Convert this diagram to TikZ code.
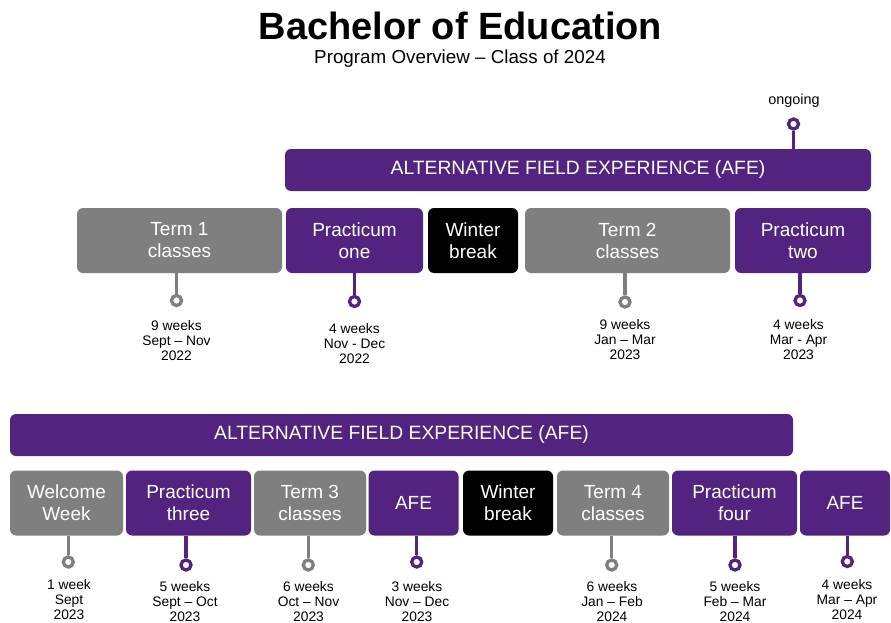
\documentclass[tikz,border=0pt]{standalone}
\usepackage{fontspec}
\setmainfont{Liberation Sans}
\definecolor{wpurple}{HTML}{52237F}
\definecolor{wgray}{HTML}{7F7F7F}
\begin{document}
\begin{tikzpicture}[x=1pt,y=-1pt,
  box/.style={rounded corners=6pt, inner sep=0pt, text=white, align=center,
    font=\fontsize{19}{22}\selectfont},
  pbox/.style={box, fill=wpurple},
  gbox/.style={box, fill=wgray},
  kbox/.style={box, fill=black},
  bar/.style={box, fill=wpurple, font=\fontsize{19.3}{22}\selectfont},
  dot/.style={circle, line width=3.3pt, fill=white, minimum size=10pt, inner sep=0pt},
  pdot/.style={dot, draw=wpurple},
  gdot/.style={dot, draw=wgray},
  stemp/.style={draw=wpurple, line width=3.3pt},
  stemg/.style={draw=wgray, line width=3.3pt},
  lbl/.style={align=center, font=\fontsize{13.8}{15}\selectfont, inner sep=0pt}]
\useasboundingbox (0,0) rectangle (891,623);
\fill[white] (0,0) rectangle (891,623);

% titles
\node[font=\fontsize{38}{40}\selectfont\bfseries, inner sep=0pt] (title) at (460.5,25.5) {Bachelor of Education};
\node[font=\fontsize{18.8}{20}\selectfont, inner sep=0pt] (sub) at (460,59) {Program Overview – Class of 2024};

% ---------- top section ----------
\node[bar, minimum width=586, minimum height=42] (afe1) at (578,170) {ALTERNATIVE FIELD EXPERIENCE (AFE)};
\node[font=\fontsize{14.4}{16}\selectfont, inner sep=0pt] (ongoing) at (794,100.5) {ongoing};
\node[pdot] (d0) at (793.5,124) {};
\draw[stemp] (d0.south) -- (d0.south |- afe1.north);

\node[gbox, minimum width=205, minimum height=65] (t1) at (179.5,240.5) {Term 1\\classes};
\node[pbox, minimum width=137, minimum height=65] (p1) at (354.5,240.5) {Practicum\\one};
\node[kbox, minimum width=90, minimum height=65] (w1) at (473,240.5) {Winter\\break};
\node[gbox, minimum width=205, minimum height=65] (t2) at (627.5,240.5) {Term 2\\classes};
\node[pbox, minimum width=136, minimum height=65] (p2) at (803,240.5) {Practicum\\two};

\node[gdot] (dt1) at (176.5,300.5) {};
\node[pdot] (dp1) at (354.5,301.5) {};
\node[gdot] (dt2) at (625,302) {};
\node[pdot] (dp2) at (800,300.5) {};
\draw[stemg] (dt1.north) -- (dt1.north |- t1.south);
\draw[stemp] (dp1.north) -- (dp1.north |- p1.south);
\draw[stemg] (dt2.north) -- (dt2.north |- t2.south);
\draw[stemp] (dp2.north) -- (dp2.north |- p2.south);

\node[lbl] (lt1) at (176.5,341) {9 weeks\\Sept – Nov\\2022};
\node[lbl] (lp1) at (354.5,343.5) {4 weeks\\Nov - Dec\\2022};
\node[lbl] (lt2) at (625,339.5) {9 weeks\\Jan – Mar\\2023};
\node[lbl] (lp2) at (798.5,339.5) {4 weeks\\Mar - Apr\\2023};

% ---------- bottom section ----------
\node[bar, minimum width=783, minimum height=42] (afe2) at (401.5,435) {ALTERNATIVE FIELD EXPERIENCE (AFE)};

\node[gbox, minimum width=113, minimum height=65] (ww) at (66.5,503) {Welcome\\Week};
\node[pbox, minimum width=125, minimum height=65] (p3) at (188.5,503) {Practicum\\three};
\node[gbox, minimum width=112, minimum height=65] (t3) at (310,503) {Term 3\\classes};
\node[pbox, minimum width=90, minimum height=65] (a1) at (413.5,503) {AFE};
\node[kbox, minimum width=90, minimum height=65] (w2) at (508,503) {Winter\\break};
\node[gbox, minimum width=112, minimum height=65] (t4) at (613,503) {Term 4\\classes};
\node[pbox, minimum width=125, minimum height=65] (p4) at (734.5,503) {Practicum\\four};
\node[pbox, minimum width=90, minimum height=65] (a2) at (845,503) {AFE};

\node[gdot] (dww) at (68.3,562) {};
\node[pdot] (dp3) at (186,565) {};
\node[gdot] (dt3) at (308.3,565) {};
\node[pdot] (da1) at (416.7,562) {};
\node[gdot] (dt4) at (611.7,565) {};
\node[pdot] (dp4) at (735,565) {};
\node[pdot] (da2) at (847.3,561.5) {};
\draw[stemg] (dww.north) -- (dww.north |- ww.south);
\draw[stemp] (dp3.north) -- (dp3.north |- p3.south);
\draw[stemg] (dt3.north) -- (dt3.north |- t3.south);
\draw[stemp] (da1.north) -- (da1.north |- a1.south);
\draw[stemg] (dt4.north) -- (dt4.north |- t4.south);
\draw[stemp] (dp4.north) -- (dp4.north |- p4.south);
\draw[stemp] (da2.north) -- (da2.north |- a2.south);

\node[lbl] (lww) at (69,599.5) {1 week\\Sept\\2023};
\node[lbl] (lp3) at (185,601.5) {5 weeks\\Sept – Oct\\2023};
\node[lbl] (lt3) at (308.5,601.5) {6 weeks\\Oct – Nov\\2023};
\node[lbl] (la1) at (417,601.5) {3 weeks\\Nov – Dec\\2023};
\node[lbl] (lt4) at (612,601.5) {6 weeks\\Jan – Feb\\2024};
\node[lbl] (lp4) at (735,601.5) {5 weeks\\Feb – Mar\\2024};
\node[lbl] (la2) at (847,600) {4 weeks\\Mar – Apr\\2024};
\end{tikzpicture}
\end{document}
